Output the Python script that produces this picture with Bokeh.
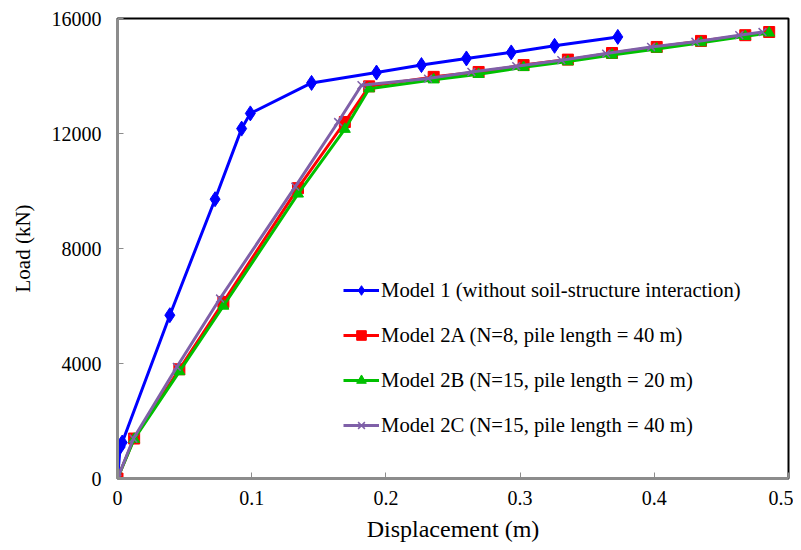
from bokeh.plotting import figure
from bokeh.models import Range1d, FixedTicker, Legend, LegendItem
from bokeh.embed import file_html
from bokeh.resources import INLINE

# Data
disp1 = [0, 0.002, 0.0035, 0.039, 0.0727, 0.0925, 0.099, 0.1446, 0.193, 0.2265, 0.26, 0.2934, 0.3257, 0.3728]
load1 = [0, 1100, 1250, 5680, 9715, 12170, 12700, 13760, 14120, 14380, 14610, 14820, 15050, 15360]

disp2A = [0, 0.0124, 0.0461, 0.0789, 0.1345, 0.1694, 0.1875, 0.2356, 0.2691, 0.3026, 0.3356, 0.3685, 0.4018, 0.4348, 0.4678, 0.4856]
load2A = [0, 1390, 3800, 6140, 10100, 12400, 13640, 13970, 14140, 14380, 14570, 14800, 15010, 15220, 15420, 15530]

disp2B = [0, 0.0124, 0.0461, 0.0789, 0.1345, 0.1694, 0.1875, 0.2356, 0.2691, 0.3026, 0.3356, 0.3685, 0.4018, 0.4348, 0.4678, 0.4856]
load2B = [0, 1370, 3720, 6000, 9900, 12150, 13560, 13870, 14060, 14300, 14500, 14730, 14940, 15160, 15380, 15500]

disp2C = [0, 0.0119, 0.0442, 0.0764, 0.1325, 0.1644, 0.1818, 0.2314, 0.2637, 0.2971, 0.3307, 0.3641, 0.3976, 0.4306, 0.4633, 0.4806]
load2C = [0, 1390, 3880, 6260, 10150, 12400, 13680, 13910, 14140, 14340, 14550, 14780, 15010, 15190, 15420, 15530]

labels = [
    "Model 1 (without soil-structure interaction)",
    "Model 2A (N=8, pile length = 40 m)",
    "Model 2B (N=15, pile length = 20 m)",
    "Model 2C (N=15, pile length = 40 m)",
]
x_ticks = [0, 0.1, 0.2, 0.3, 0.4, 0.5]
y_ticks = [0, 4000, 8000, 12000, 16000]

FONT = "Times New Roman"

p = figure(width=793, height=550, output_backend="svg", toolbar_location=None,
           x_range=Range1d(0, 0.5), y_range=Range1d(0, 16000))
p.min_border_left = 117
p.min_border_right = 5
p.min_border_top = 18
p.min_border_bottom = 72
p.background_fill_color = "white"
p.border_fill_color = "white"
p.outline_line_color = "black"
p.outline_line_width = 2
p.xgrid.visible = False
p.ygrid.visible = False

for ax, ticks in ((p.xaxis[0], x_ticks), (p.yaxis[0], y_ticks)):
    ax.ticker = FixedTicker(ticks=ticks)
    ax.axis_line_color = "#8c8c8c"
    ax.axis_line_width = 3
    ax.major_tick_line_color = "#8c8c8c"
    ax.major_tick_line_width = 1
    ax.major_tick_in = 6
    ax.major_tick_out = 0
    ax.minor_tick_line_color = None
    ax.major_label_text_font = FONT
    ax.major_label_text_font_size = "20px"
    ax.major_label_text_color = "black"
    ax.axis_label_text_font = FONT
    ax.axis_label_text_font_style = "normal"
    ax.axis_label_text_color = "black"

p.xaxis.axis_label = "Displacement (m)"
p.yaxis.axis_label = "Load (kN)"
p.xaxis.axis_label_text_font_size = "24px"
p.yaxis.axis_label_text_font_size = "21px"
p.xaxis.major_label_standoff = 12
p.yaxis.major_label_standoff = 16
p.xaxis.axis_label_standoff = 8
p.yaxis.axis_label_standoff = 14

l1 = p.line(disp1, load1, line_color="#0000ff", line_width=3)
s1 = p.scatter(disp1, load1, marker="diamond", size=15, fill_color="#0000ff", line_color="#0000ff")

l2 = p.line(disp2A, load2A, line_color="#ff0000", line_width=3)
s2 = p.scatter(disp2A, load2A, marker="square", size=11, fill_color="#ff0000", line_color="#ff0000")

l3 = p.line(disp2B, load2B, line_color="#00c000", line_width=3)
s3 = p.scatter(disp2B, load2B, marker="triangle", size=11, fill_color="#00c000", line_color="#00c000")

l4 = p.line(disp2C, load2C, line_color="#7f60a8", line_width=3)
s4 = p.scatter(disp2C, load2C, marker="x", size=11, line_color="#7f60a8", line_width=1.5)

legend = Legend(items=[
    LegendItem(label=labels[0], renderers=[l1, s1]),
    LegendItem(label=labels[1], renderers=[l2, s2]),
    LegendItem(label=labels[2], renderers=[l3, s3]),
    LegendItem(label=labels[3], renderers=[l4, s4]),
], location=(226, 41))
legend.background_fill_alpha = 0
legend.border_line_color = None
legend.padding = 0
legend.margin = 0
legend.spacing = 21
legend.glyph_width = 36
legend.glyph_height = 24
legend.label_height = 24
legend.label_standoff = 2
legend.label_text_font = FONT
legend.label_text_font_size = "20.7px"
legend.label_text_color = "black"
p.add_layout(legend, "center")

open("out.html", "w").write(file_html(p, INLINE))
